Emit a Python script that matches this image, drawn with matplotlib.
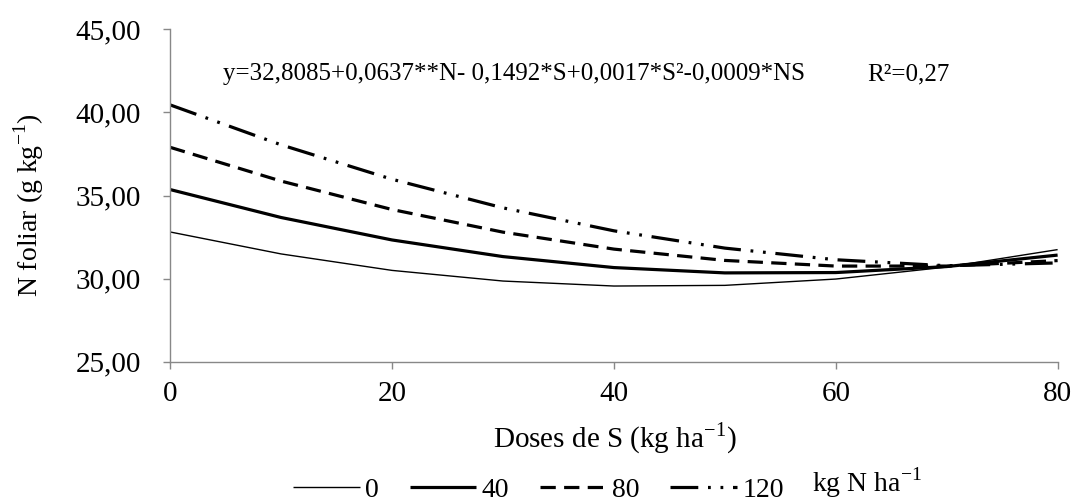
"""N foliar vs S dose for four N rates — response surface curves."""
import matplotlib
matplotlib.use("Agg")
import matplotlib.pyplot as plt
from matplotlib.lines import Line2D

plt.rcParams["font.family"] = ["Liberation Serif", "DejaVu Serif"]
plt.rcParams["mathtext.fontset"] = "custom"
plt.rcParams["mathtext.rm"] = "Liberation Serif"
plt.rcParams["lines.scale_dashes"] = False

# data
doses_s = [0, 10, 20, 30, 40, 50, 60, 70, 80]
n_rates = ["0", "40", "80", "120"]
n_0 = [32.81, 31.49, 30.50, 29.86, 29.56, 29.60, 29.98, 30.70, 31.75]
n_40 = [35.36, 33.68, 32.33, 31.33, 30.67, 30.35, 30.37, 30.73, 31.42]
n_80 = [37.90, 35.87, 34.16, 32.80, 31.78, 31.10, 30.76, 30.76, 31.09]
n_120 = [40.45, 38.05, 35.98, 34.26, 32.88, 31.84, 31.14, 30.78, 30.95]
x_ticks = [0, 20, 40, 60, 80]
y_ticks = [25, 30, 35, 40, 45]
equation = "y=32,8085+0,0637**N- 0,1492*S+0,0017*S²-0,0009*NS"
r2_text = "R²=0,27"

styles = [
    dict(lw=1.0, ls="-"),
    dict(lw=2.3, ls="-"),
    dict(lw=2.3, ls=(0, (11, 6))),
    dict(lw=2.3, ls=(0, (20, 7, 2, 7, 2, 7))),
]

fig = plt.figure(figsize=(10.77, 5.04), dpi=100)
ax = fig.add_axes([0.158, 0.282, 0.824, 0.66])

for series, st in zip([n_0, n_40, n_80, n_120], styles):
    ax.plot(doses_s, series, color="black", solid_capstyle="butt",
            dash_capstyle="butt", **st)

ax.set_xlim(0, 80)
ax.set_ylim(25, 45)
ax.set_xticks(x_ticks)
ax.set_yticks(y_ticks)
ax.set_yticklabels([f"{v:.2f}".replace(".", ",") for v in y_ticks])
ax.tick_params(labelsize=21, color="#888888", length=5, width=1)
ax.tick_params(axis="y", pad=16)
ax.tick_params(axis="x", pad=9)
for side in ["top", "right"]:
    ax.spines[side].set_visible(False)
for side in ["left", "bottom"]:
    ax.spines[side].set_color("#888888")
    ax.spines[side].set_linewidth(1)

ax.set_xlabel("Doses de S (kg ha$^{\\mathregular{-1}}$)", fontsize=21)
ax.xaxis.set_label_coords(0.501, -0.175)
ax.set_ylabel("N foliar (g kg$^{\\mathregular{-1}}$)", fontsize=20)
ax.yaxis.set_label_coords(-0.14, 0.47)

ax.text(0.059, 0.865, equation, transform=ax.transAxes, fontsize=18,
        va="center", ha="left")
ax.text(0.786, 0.865, r2_text, transform=ax.transAxes, fontsize=18,
        va="center", ha="left")

handles = [Line2D([], [], color="black", solid_capstyle="butt",
                  dash_capstyle="butt", **st) for st in styles]
fig.legend(handles, n_rates, loc="center", bbox_to_anchor=(0.5, 0.027),
           ncol=4, frameon=False, fontsize=20, handlelength=2.4,
           handletextpad=0.2, columnspacing=1.1, borderpad=0)
fig.text(0.754, 0.042, "kg N ha$^{\\mathregular{-1}}$", fontsize=20,
         va="center", ha="left")

fig.savefig("out.png", dpi=100)
plt.close(fig)
